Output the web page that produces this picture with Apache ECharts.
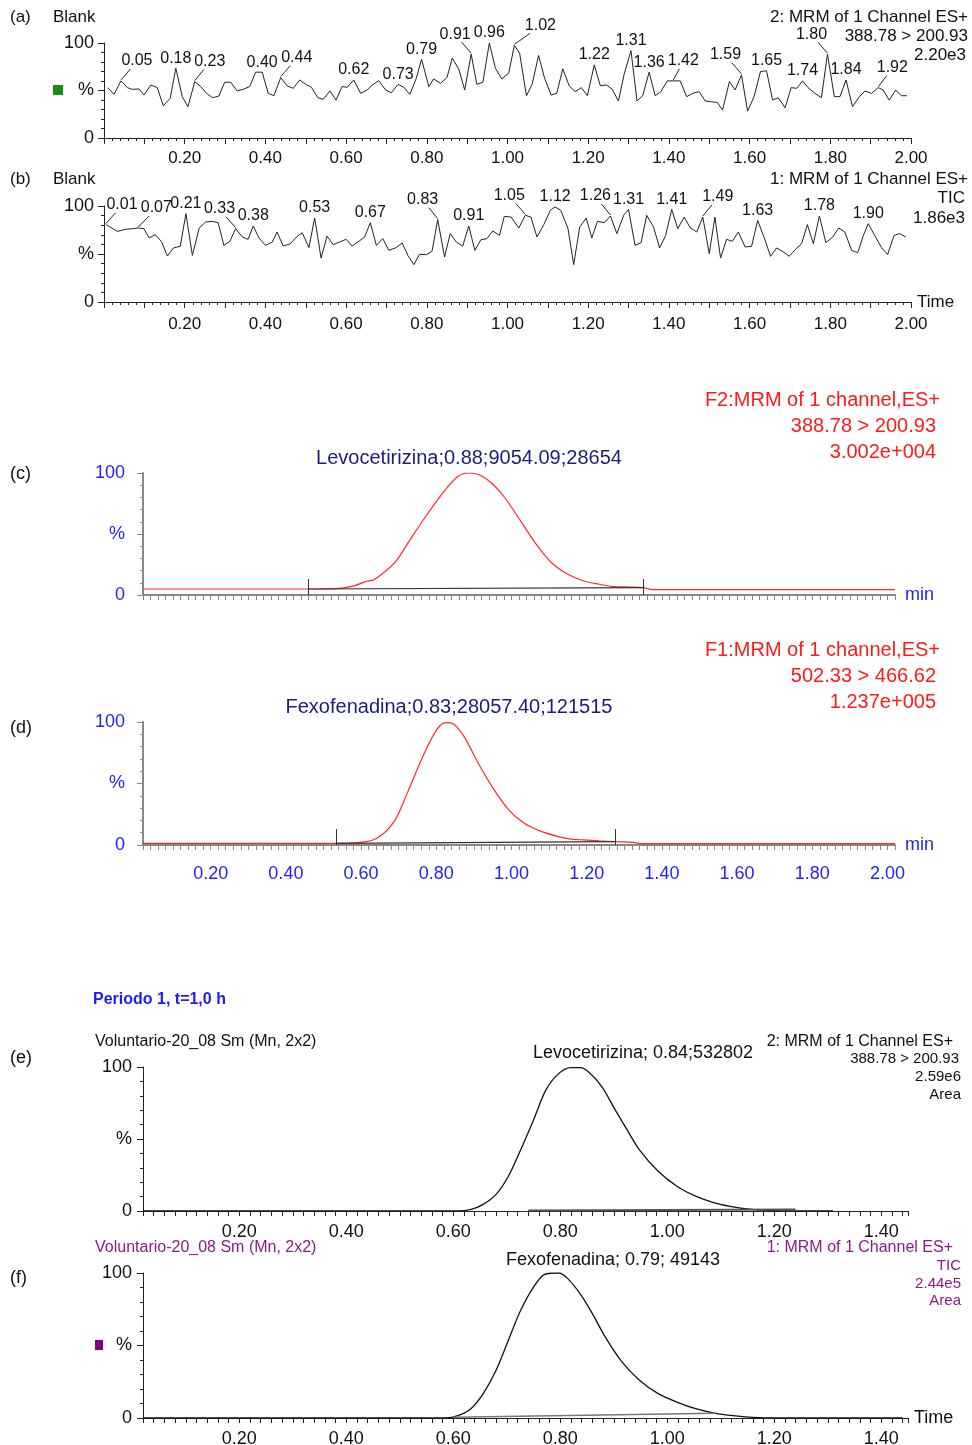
<!DOCTYPE html>
<html>
<head>
<meta charset="utf-8">
<script src="https://cdn.jsdelivr.net/npm/echarts@6/dist/echarts.min.js"></script>
<style>
html,body{margin:0;padding:0;background:#fff}
#chart{width:972px;height:1445px}
</style>
</head>
<body>
<div id="chart"></div>
<script>
// (a) blank, 388.78 > 200.93
var blankATime = [0.009,0.025,0.042,0.058,0.070,0.087,0.099,0.116,0.132,0.147,0.164,0.178,0.194,0.208,0.225,0.240,0.254,0.269,0.285,0.299,0.314,0.330,0.345,0.361,0.376,0.392,0.407,0.421,0.438,0.454,0.469,0.485,0.500,0.514,0.530,0.543,0.560,0.575,0.590,0.603,0.619,0.636,0.652,0.665,0.681,0.698,0.712,0.729,0.743,0.758,0.774,0.787,0.805,0.817,0.834,0.850,0.863,0.879,0.894,0.910,0.924,0.939,0.955,0.970,0.986,1.003,1.017,1.030,1.047,1.061,1.077,1.092,1.108,1.122,1.137,1.153,1.168,1.183,1.198,1.215,1.230,1.245,1.259,1.275,1.289,1.306,1.321,1.335,1.351,1.366,1.380,1.396,1.411,1.428,1.444,1.459,1.475,1.490,1.504,1.520,1.533,1.550,1.564,1.580,1.595,1.611,1.627,1.642,1.657,1.671,1.688,1.703,1.717,1.731,1.745,1.762,1.778,1.793,1.810,1.824,1.839,1.855,1.872,1.886,1.902,1.919,1.931,1.946,1.962,1.976,1.990];
var blankAValue = [53.0,45.9,60.1,53.0,51.2,51.6,45.2,55.8,53.0,33.9,41.7,73.5,43.5,32.9,59.4,54.1,47.0,42.4,44.2,58.7,58.7,49.5,51.2,54.1,69.3,69.3,47.0,44.5,63.6,54.8,52.3,61.1,56.5,53.4,42.4,40.6,49.5,39.9,54.1,53.4,61.1,47.0,50.5,55.8,60.4,50.5,47.7,56.5,53.4,45.9,62.9,83.0,54.1,62.2,57.6,63.6,84.1,72.8,50.5,88.3,56.5,58.7,100,73.5,62.2,68.2,97.5,89.4,44.5,56.5,86.9,62.9,45.2,47.0,72.8,54.8,48.8,53.0,44.5,77.0,55.1,55.8,51.6,38.9,67.1,91.9,38.9,44.5,69.3,44.5,48.8,60.1,60.1,60.1,43.5,47.0,48.8,38.9,38.2,37.5,29.3,59.4,50.5,66.4,28.3,43.5,70.0,70.7,39.9,42.4,31.8,53.0,52.3,60.1,53.0,47.0,42.4,88.3,43.5,43.5,61.1,32.9,43.5,49.5,47.0,53.0,50.5,39.9,50.5,44.5,44.5];
var blankAPeaks = ['0.05','0.18','0.23','0.40','0.44','0.62','0.73','0.79','0.91','0.96','1.02','1.22','1.31','1.36','1.42','1.59','1.65','1.74','1.80','1.84','1.92'];

// (b) blank, TIC
var blankBTime = [0.005,0.033,0.054,0.071,0.085,0.099,0.112,0.127,0.142,0.157,0.172,0.189,0.203,0.219,0.236,0.252,0.269,0.283,0.297,0.312,0.326,0.343,0.357,0.370,0.384,0.400,0.417,0.429,0.444,0.461,0.477,0.491,0.508,0.522,0.538,0.553,0.568,0.584,0.600,0.615,0.629,0.646,0.660,0.675,0.691,0.706,0.724,0.739,0.753,0.768,0.782,0.799,0.813,0.827,0.844,0.858,0.873,0.889,0.904,0.919,0.934,0.949,0.964,0.980,0.992,1.009,1.028,1.044,1.058,1.073,1.090,1.106,1.118,1.132,1.150,1.164,1.179,1.195,1.209,1.223,1.240,1.255,1.271,1.288,1.300,1.316,1.331,1.345,1.362,1.377,1.392,1.407,1.422,1.438,1.453,1.469,1.484,1.500,1.514,1.528,1.543,1.557,1.572,1.589,1.605,1.620,1.637,1.652,1.667,1.684,1.698,1.714,1.729,1.743,1.758,1.773,1.789,1.806,1.821,1.836,1.853,1.868,1.882,1.894,1.910,1.927,1.942,1.958,1.972,1.987];
var blankBValue = [80.6,73.6,75.7,76.4,77.1,76.4,66.7,70.1,63.2,47.9,56.3,58.0,92.0,48.6,77.1,83.3,84.0,82.6,59.0,63.2,76.4,67.7,65.3,79.2,66.7,59.0,62.5,72.9,58.3,60.4,67.7,72.2,56.9,87.5,45.8,68.8,59.7,62.5,65.3,58.3,62.5,67.7,82.6,59.0,66.0,53.8,56.6,61.5,48.6,38.9,49.7,49.3,52.8,85.8,46.9,71.2,62.5,58.3,79.2,53.8,64.9,66.0,74.0,69.4,89.2,88.5,77.1,90.3,88.5,67.7,80.6,95.5,99.0,95.5,76.4,38.9,78.1,87.5,66.7,84.0,82.6,89.6,71.2,90.3,96.5,59.0,61.8,90.3,78.1,56.3,69.4,96.5,76.4,88.5,77.1,72.9,88.5,50.3,88.5,45.8,65.3,63.2,72.9,57.3,58.0,85.1,66.0,47.6,56.3,52.1,47.6,54.9,60.8,80.6,60.8,89.6,61.8,67.7,77.1,72.9,53.8,51.4,69.4,81.6,69.4,56.6,49.3,69.4,71.2,67.7];
var blankBPeaks = ['0.01','0.07','0.21','0.33','0.38','0.53','0.67','0.83','0.91','1.05','1.12','1.26','1.31','1.41','1.49','1.63','1.78','1.90'];

// sideways shift (px) of each peak label; non-zero ones get a slanted leader
var blankAShift = [16,0,15,0,16,0,0,0,-16,0,26,0,0,0,10,-16,0,0,-16,0,14];
var blankBShift = [16,18,0,-16,0,0,0,-15,0,-16,0,-15,0,0,15,0,0,0];

// (c) levocetirizina standard
var levoCTime = [0.02,0.46,0.542,0.583,0.617,0.633,0.658,0.692,0.733,0.775,0.817,0.858,0.887,0.917,0.950,0.983,1.025,1.067,1.108,1.150,1.192,1.233,1.267,1.300,1.350,1.375,2.02];
var levoCValue = [4.9,4.9,5.5,7.7,11.5,12.3,17.8,27.4,46.6,65.8,83.6,97.3,100,98.1,91.0,79.5,60.3,41.1,26.0,17.0,11.5,8.8,7.1,6.6,6.0,4.4,4.4];
var levoCBaseTime = [0.46,1.35];
var levoCBaseValue = [4.9,6.0];

// (d) fexofenadina standard
var fexoDTime = [0.02,0.533,0.592,0.642,0.688,0.725,0.763,0.800,0.825,0.845,0.875,0.908,0.950,0.992,1.033,1.075,1.125,1.158,1.192,1.233,1.275,1.325,1.342,2.02];
var fexoDValue = [1.4,1.4,1.9,5.5,19.2,43.8,71.2,93.2,99.5,98.6,87.7,68.5,46.6,28.8,17.8,11.5,6.8,4.7,4.1,3.3,2.7,2.2,1.1,1.1];
var fexoDBaseTime = [0.533,1.275];
var fexoDBaseValue = [1.4,2.7];

// (e) volunteer, levocetirizina
var levoETime = [0.02,0.609,0.633,0.656,0.680,0.703,0.726,0.750,0.773,0.797,0.820,0.837,0.855,0.878,0.901,0.925,0.948,0.983,1.018,1.053,1.088,1.123,1.158,1.204,1.262,1.31];
var levoEValue = [0,0,1.1,4.6,11.5,24.1,42.5,63.2,83.9,95.4,99.5,99.5,95.9,86.2,71.3,56.3,42.5,27.6,17.2,10.3,5.7,2.8,1.1,0.2,0,0];
var levoEBaseTime = [0.74,1.24];
var levoEBaseValue = [0.4,1.0];

// (f) volunteer, fexofenadina
var fexoFTime = [0.02,0.586,0.610,0.633,0.656,0.680,0.703,0.726,0.750,0.771,0.797,0.814,0.837,0.860,0.884,0.913,0.948,0.983,1.018,1.053,1.088,1.123,1.158,1.204,1.44];
var fexoFValue = [0,0,1.8,6.4,16.8,32.9,53.6,74.3,90.3,99.1,100,96.1,85.7,72.0,55.9,39.8,26.0,16.8,11.0,6.4,3.4,1.6,0.5,0,0];
var fexoFBaseTime = [0.60,1.09];
var fexoFBaseValue = [0.5,3.3];

var FONT = '"Liberation Sans", Arial, sans-serif';

function pairs(t, v){
  return t.map(function(x, i){ return [x, v[i]]; });
}

// label each listed time at the highest point within +-0.02 min
function peakPoints(t, v, labels){
  return labels.map(function(s, k){
    var L = parseFloat(s), best = -1;
    for (var i = 0; i < t.length; i++) {
      if (Math.abs(t[i] - L) <= 0.02 && (best < 0 || v[i] > v[best])) best = i;
    }
    return [t[best], v[best], k];
  });
}

function fmt02(v){
  var k = Math.round(v * 10);
  return (k > 0 && k % 2 === 0) ? (k / 10).toFixed(2) : '';
}
function fmt002(v){
  var k = Math.round(v * 100);
  return (k > 0 && k % 20 === 0) ? (k / 100).toFixed(2) : '';
}
function fmtPct(v){
  return v === 0 ? '0' : (v === 50 ? '%' : (v === 100 ? '100' : ''));
}

function yAx(gi, col, w, lblCol, margin){
  return {
    gridIndex: gi, type: 'value', min: 0, max: 100, interval: 50,
    axisLine: {show: true, lineStyle: {color: col, width: w}},
    axisTick: {show: true, length: 6, lineStyle: {color: col}},
    minorTick: {show: true, splitNumber: 5, length: 3, lineStyle: {color: col}},
    splitLine: {show: false},
    axisLabel: {formatter: fmtPct, fontSize: 18, color: lblCol, margin: margin, fontFamily: FONT}
  };
}

function line(xi, data, col, w, smooth){
  return {
    type: 'line', xAxisIndex: xi, yAxisIndex: xi, data: data,
    symbol: 'none', smooth: smooth || false, silent: true, animation: false,
    lineStyle: {color: col, width: w}
  };
}

function txt(x, y, s, size, col, align, weight){
  return {
    type: 'text', x: x, y: y, silent: true,
    style: {text: s, fontSize: size, fill: col || '#111', textAlign: align || 'left',
            textVerticalAlign: 'middle', fontFamily: FONT, fontWeight: weight || 'normal'}
  };
}

// peak time labels drawn at the apex through the axis scales
function peakLabels(xi, t, v, labels, shift){
  return {
    type: 'custom', xAxisIndex: xi, yAxisIndex: xi, silent: true, animation: false, clip: false,
    data: peakPoints(t, v, labels),
    renderItem: function(params, api){
      var p = api.coord([api.value(0), api.value(1)]);
      var k = api.value(2), dx = shift[k];
      var kids = [];
      var ty = p[1] - 2;
      if (dx !== 0) {
        ty = p[1] - 12;
        kids.push({type: 'line', shape: {x1: p[0], y1: p[1] - 1, x2: p[0] + dx * 0.6, y2: ty},
                   style: {stroke: '#222', lineWidth: 1}});
      }
      kids.push({type: 'text', x: p[0] + dx, y: ty,
                 style: {text: labels[k], fontSize: 16, fill: '#111', fontFamily: FONT,
                         textAlign: 'center', textVerticalAlign: 'bottom'}});
      return {type: 'group', children: kids};
    }
  };
}

function edges(t){
  return t.map(function(x){ return [{coord: [x, 0]}, {coord: [x, 13]}]; });
}
function integrated(xi, t, v, col, w, withEdges){
  var s = line(xi, pairs(t, v), col, w);
  if (withEdges) {
    s.markLine = {symbol: 'none', silent: true, animation: false, label: {show: false},
                  lineStyle: {color: '#333', width: 1, type: 'solid'}, data: edges(t)};
  }
  return s;
}

var grids = [
  {left: 104, top: 43, width: 807, height: 95},
  {left: 104, top: 206, width: 807, height: 96},
  {left: 143, top: 473, width: 752, height: 122},
  {left: 143, top: 722, width: 752, height: 123},
  {left: 143, top: 1067, width: 765, height: 144},
  {left: 143, top: 1273, width: 765, height: 145}
].map(function(g){ g.containLabel = false; g.outerBoundsMode = 'none'; return g; });

var xAxes = [
  {gridIndex: 0, type: 'value', min: 0, max: 2, interval: 0.1,
   axisLine: {lineStyle: {color: '#222'}}, axisTick: {length: 6, lineStyle: {color: '#222'}},
   minorTick: {show: true, splitNumber: 5, length: 3, lineStyle: {color: '#222'}},
   splitLine: {show: false}, axisLabel: {formatter: fmt02, fontSize: 17, color: '#111', margin: 12, showMaxLabel: true, fontFamily: FONT}},
  {gridIndex: 1, type: 'value', min: 0, max: 2, interval: 0.1, name: 'Time', nameGap: 6,
   nameTextStyle: {fontSize: 17, color: '#111', fontFamily: FONT},
   axisLine: {lineStyle: {color: '#222'}}, axisTick: {length: 6, lineStyle: {color: '#222'}},
   minorTick: {show: true, splitNumber: 5, length: 3, lineStyle: {color: '#222'}},
   splitLine: {show: false}, axisLabel: {formatter: fmt02, fontSize: 17, color: '#111', margin: 14, showMaxLabel: true, fontFamily: FONT}},
  {gridIndex: 2, type: 'value', min: 0.02, max: 2.02, interval: 0.02, name: 'min', nameGap: 10,
   nameTextStyle: {fontSize: 18, color: '#2222ff', fontFamily: FONT},
   axisLine: {lineStyle: {color: '#888', width: 2}}, axisTick: {length: 5, lineStyle: {color: '#888'}},
   splitLine: {show: false}, axisLabel: {show: false}},
  {gridIndex: 3, type: 'value', min: 0.02, max: 2.02, interval: 0.02, name: 'min', nameGap: 10,
   nameTextStyle: {fontSize: 18, color: '#2222ff', fontFamily: FONT},
   axisLine: {lineStyle: {color: '#888', width: 2}}, axisTick: {length: 5, lineStyle: {color: '#888'}},
   splitLine: {show: false}, axisLabel: {formatter: fmt002, fontSize: 18, color: '#2222ff', margin: 20, fontFamily: FONT}},
  {gridIndex: 4, type: 'value', min: 0.02, max: 1.45, interval: 0.02,
   axisLine: {lineStyle: {color: '#222'}}, axisTick: {length: 5, lineStyle: {color: '#222'}},
   splitLine: {show: false}, axisLabel: {formatter: fmt002, fontSize: 18, color: '#111', margin: 12, fontFamily: FONT}},
  {gridIndex: 5, type: 'value', min: 0.02, max: 1.45, interval: 0.02, name: 'Time', nameGap: 6,
   nameTextStyle: {fontSize: 18, color: '#111', fontFamily: FONT},
   axisLine: {lineStyle: {color: '#222'}}, axisTick: {length: 5, lineStyle: {color: '#222'}},
   splitLine: {show: false}, axisLabel: {formatter: fmt002, fontSize: 18, color: '#111', margin: 12, fontFamily: FONT}}
];

var yAxes = [
  yAx(0, '#222', 1, '#111', 10),
  yAx(1, '#222', 1, '#111', 10),
  yAx(2, '#888', 2, '#2222ff', 18),
  yAx(3, '#888', 2, '#2222ff', 18),
  yAx(4, '#222', 1, '#111', 11),
  yAx(5, '#222', 1, '#111', 11)
];

var series = [
  line(0, pairs(blankATime, blankAValue), '#222', 1),
  peakLabels(0, blankATime, blankAValue, blankAPeaks, blankAShift),
  line(1, pairs(blankBTime, blankBValue), '#222', 1),
  peakLabels(1, blankBTime, blankBValue, blankBPeaks, blankBShift),
  line(2, pairs(levoCTime, levoCValue), '#ff2a2a', 1.2, 0.3),
  integrated(2, levoCBaseTime, levoCBaseValue, '#333', 1.2, true),
  line(3, pairs(fexoDTime, fexoDValue), '#ff2a2a', 1.2, 0.3),
  integrated(3, fexoDBaseTime, fexoDBaseValue, '#333', 1.2, true),
  line(4, pairs(levoETime, levoEValue), '#111', 1.3, 0.3),
  integrated(4, levoEBaseTime, levoEBaseValue, '#555', 2, false),
  line(5, pairs(fexoFTime, fexoFValue), '#111', 1.3, 0.3),
  integrated(5, fexoFBaseTime, fexoFBaseValue, '#777', 1.5, false)
];

var texts = [
  txt(10, 17, '(a)', 17), txt(53, 17, 'Blank', 17),
  txt(968, 17, '2: MRM of 1 Channel ES+', 17, '#111', 'right'),
  txt(968, 36, '388.78 > 200.93', 17, '#111', 'right'),
  txt(966, 55, '2.20e3', 17, '#111', 'right'),
  {type: 'rect', x: 53, y: 85, shape: {width: 10, height: 10}, style: {fill: '#1a8c1a'}, silent: true},

  txt(10, 179, '(b)', 17), txt(53, 179, 'Blank', 17),
  txt(968, 179, '1: MRM of 1 Channel ES+', 17, '#111', 'right'),
  txt(965, 198, 'TIC', 17, '#111', 'right'),
  txt(965, 218, '1.86e3', 17, '#111', 'right'),

  txt(940, 400, 'F2:MRM of 1 channel,ES+', 20, '#ff1a1a', 'right'),
  txt(936, 426, '388.78 > 200.93', 20, '#ff1a1a', 'right'),
  txt(936, 452, '3.002e+004', 20, '#ff1a1a', 'right'),
  txt(469, 458, 'Levocetirizina;0.88;9054.09;28654', 20, '#1c1c7c', 'center'),
  txt(10, 474, '(c)', 18),

  txt(940, 650, 'F1:MRM of 1 channel,ES+', 20, '#ff1a1a', 'right'),
  txt(936, 676, '502.33 > 466.62', 20, '#ff1a1a', 'right'),
  txt(936, 702, '1.237e+005', 20, '#ff1a1a', 'right'),
  txt(449, 707, 'Fexofenadina;0.83;28057.40;121515', 20, '#1c1c7c', 'center'),
  txt(10, 728, '(d)', 18),

  txt(93, 1000, 'Periodo 1, t=1,0 h', 16, '#1a1aff', 'left', 'bold'),
  txt(95, 1042, 'Voluntario-20_08 Sm (Mn, 2x2)', 16, '#111', 'left'),
  txt(10, 1058, '(e)', 18),
  txt(643, 1053, 'Levocetirizina; 0.84;532802', 18, '#111', 'center'),
  txt(953, 1042, '2: MRM of 1 Channel ES+', 16, '#111', 'right'),
  txt(959, 1059, '388.78 > 200.93', 15, '#111', 'right'),
  txt(961, 1077, '2.59e6', 15, '#111', 'right'),
  txt(961, 1095, 'Area', 15, '#111', 'right'),

  txt(95, 1248, 'Voluntario-20_08 Sm (Mn, 2x2)', 16, '#8b1a8b', 'left'),
  txt(953, 1248, '1: MRM of 1 Channel ES+', 16, '#8b1a8b', 'right'),
  txt(961, 1266, 'TIC', 15, '#8b1a8b', 'right'),
  txt(961, 1284, '2.44e5', 15, '#8b1a8b', 'right'),
  txt(961, 1301, 'Area', 15, '#8b1a8b', 'right'),
  txt(10, 1278, '(f)', 18),
  txt(613, 1260, 'Fexofenadina; 0.79; 49143', 18, '#111', 'center'),
  {type: 'rect', x: 95, y: 1340, shape: {width: 8, height: 10}, style: {fill: '#800080'}, silent: true}
];

var chart = echarts.init(document.getElementById('chart'));
chart.setOption({
  backgroundColor: '#fff',
  animation: false,
  grid: grids,
  xAxis: xAxes,
  yAxis: yAxes,
  series: series,
  graphic: texts
});
</script>
</body>
</html>
